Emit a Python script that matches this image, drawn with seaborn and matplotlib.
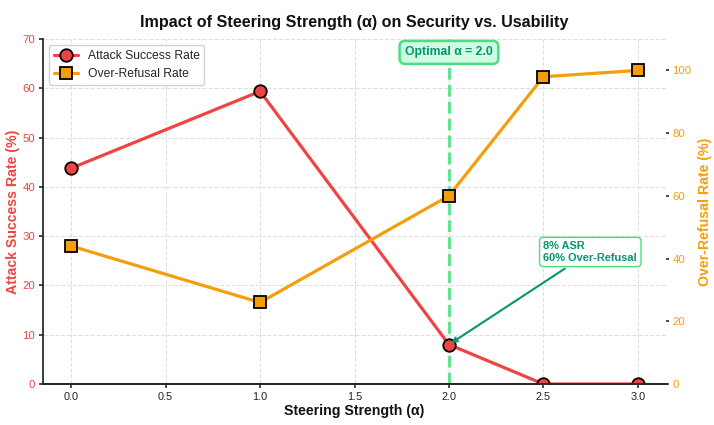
import matplotlib
matplotlib.use("Agg")
import matplotlib.pyplot as plt
import seaborn as sns
import pandas as pd

alpha = [0.0, 1.0, 2.0, 2.5, 3.0]
asr = [43.8, 59.4, 8.0, 0.0, 0.0]
over_refusal = [44.0, 26.0, 60.0, 98.0, 100.0]
xticks = [0.0, 0.5, 1.0, 1.5, 2.0, 2.5, 3.0]

RED = "#ef4444"
ORANGE = "#f59e0b"
GREEN_LINE = "#4ade80"
GREEN_TEXT = "#059669"

sns.set_theme(style="white")
plt.rcParams['font.family'] = ['Liberation Sans', 'DejaVu Sans']

df = pd.DataFrame({"alpha": alpha, "asr": asr, "orr": over_refusal})

fig = plt.figure(figsize=(7.14, 4.25), dpi=100)
ax = fig.add_axes([0.060, 0.0965, 0.873, 0.8115])
ax2 = ax.twinx()

sns.lineplot(data=df, x="alpha", y="asr", ax=ax, color=RED, linewidth=2.3,
             marker="o", markersize=9, markeredgecolor="black",
             markeredgewidth=1.3, label="Attack Success Rate", legend=False, zorder=3)
sns.lineplot(data=df, x="alpha", y="orr", ax=ax2, color=ORANGE, linewidth=2.3,
             marker="s", markersize=9, markeredgecolor="black",
             markeredgewidth=1.3, label="Over-Refusal Rate", legend=False, zorder=3)

ax.set_ylim(0, 70)
ax2.set_ylim(0, 110)
ax.set_xlim(-0.15, 3.15)
ax.set_xticks(xticks)
ax.set_xticklabels([f"{v:.1f}" for v in xticks])
ax.set_yticks(range(0, 71, 10))
ax2.set_yticks(range(0, 101, 20))

ax.grid(True, linestyle="--", color="#dddddd", linewidth=0.8, alpha=0.9)
ax.set_axisbelow(True)

ax.axvline(2.0, color=GREEN_LINE, linestyle="--", linewidth=2.3, alpha=0.85, zorder=2)

for a in (ax, ax2):
    a.spines["top"].set_visible(False)
    a.spines["right"].set_visible(False)
ax.spines["left"].set_color("#222222")
ax.spines["bottom"].set_color("#222222")
ax2.spines["left"].set_visible(False)

ax.tick_params(axis="y", labelcolor=RED, color="#333333", labelsize=8.2, left=True, length=3, pad=2.5)
ax.tick_params(axis="x", labelcolor="#222222", color="#333333", labelsize=7.8, bottom=True, length=3, pad=2.5)
ax2.tick_params(axis="y", labelcolor=ORANGE, color="#333333", labelsize=8.2, right=True, length=2.5, pad=2)

ax.set_xlabel("Steering Strength (α)", fontsize=10.2, fontweight="bold", color="#111111", labelpad=2)
ax.set_ylabel("Attack Success Rate (%)", fontsize=10.2, fontweight="bold", color=RED)
ax.yaxis.set_label_coords(-0.037, 0.5)
ax2.set_ylabel("Over-Refusal Rate (%)", fontsize=10.2, fontweight="bold", color=ORANGE, labelpad=5)
ax.set_title("Impact of Steering Strength (α) on Security vs. Usability",
             fontsize=11.6, fontweight="bold", pad=9, color="#111111")

ax.text(2.0, 67.3, "Optimal α = 2.0", ha="center", va="center", fontsize=8.8,
        fontweight="bold", color=GREEN_TEXT, zorder=6,
        bbox=dict(boxstyle="round,pad=0.45", facecolor="#d1fae5",
                  edgecolor=GREEN_LINE, linewidth=1.8))

ax.annotate("8% ASR\n60% Over-Refusal", xy=(2.0, 8.0), xytext=(2.5, 26.8),
            fontsize=7.9, fontweight="bold", color=GREEN_TEXT, zorder=6,
            ha="left", va="center",
            arrowprops=dict(arrowstyle="->", color=GREEN_TEXT, lw=1.5),
            bbox=dict(boxstyle="round,pad=0.35", facecolor="white",
                      edgecolor=GREEN_LINE, linewidth=1.0))

h1, l1 = ax.get_legend_handles_labels()
h2, l2 = ax2.get_legend_handles_labels()
leg = ax2.legend(h1 + h2, l1 + l2, loc="upper left", fontsize=8.7,
                 frameon=True, framealpha=0.9, edgecolor="#cccccc")

fig.savefig("out.png", dpi=100)
